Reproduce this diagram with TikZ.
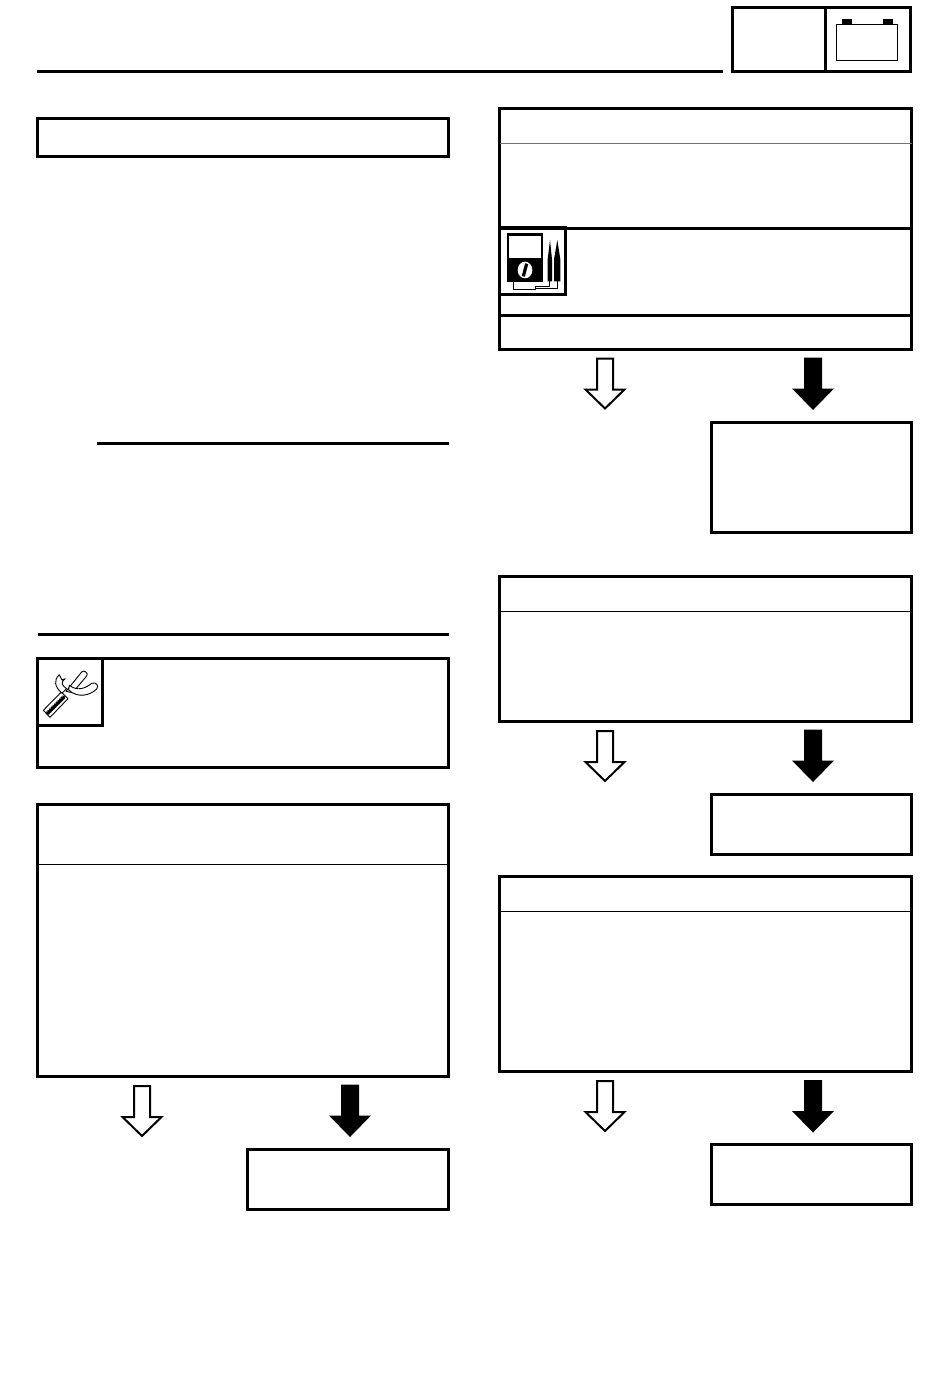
\documentclass[tikz,border=0pt]{standalone}
\tikzset{
  heavy/.style={line width=3pt,draw=black},
  panel/.style={heavy,shape=rectangle,inner sep=0pt,outer sep=0pt,anchor=north west},
  thinrule/.style={line width=1pt,draw=black},
  greyrule/.style={line width=1pt,draw=black!55},
  hollowarrow/.style={line width=2pt,draw=black,fill=white,line join=miter},
  solidarrow/.style={fill=black,draw=none},
  iconline/.style={line width=0.9pt,draw=black,line join=round},
}
\newcommand{\panelbox}[5]{\node[panel,minimum width={(#4-#2)*1pt},minimum height={(#5-#3)*1pt}] (#1) at ({#2-0.5},{#3-0.5}) {};}
\newcommand{\hollowdown}[2]{\draw[hollowarrow,shift={(#1,#2)}] (-8,0) -- (8,0) -- (8,31) -- (19.5,31) -- (0,50) -- (-19.5,31) -- (-8,31) -- cycle;}
\newcommand{\soliddown}[2]{\fill[solidarrow,shift={(#1,#2)}] (-9,-0.5) -- (9,-0.5) -- (9,30.5) -- (21,30.5) -- (0,52) -- (-21,30.5) -- (-9,30.5) -- cycle;}
\begin{document}
\begin{tikzpicture}[x=1pt,y=-1pt]
\useasboundingbox (0,0) rectangle (950,1398);
\fill[white] (0,0) rectangle (950,1398);

% header
\draw[heavy] (37,71) -- (723,71);
\panelbox{headL}{732.5}{8}{825.5}{71.5}
\panelbox{headR}{825.5}{8}{911}{71.5}
\draw[line width=1.2pt] (836.3,24.3) rectangle (897.3,60.3);
\fill (841.5,19) rectangle (851.5,24.3);
\fill (882.8,19) rectangle (893,24.3);

% left column
\panelbox{titleL}{38}{119}{449}{157}
\draw[heavy] (97,443) -- (449,443);
\draw[heavy] (38,634) -- (449,634);

\panelbox{toolbox}{38}{659}{449}{768}
\panelbox{toolicon}{38}{659}{103}{726}
\begin{scope}[shift={(40,662)},scale=1/3]
  % handle
  \draw[iconline,fill=white] (10,145) -- (64,90) -- (84,110) -- (30,166) -- cycle;
  \foreach \t in {0,0.1,...,1}{
    \fill[black] ({24+\t*50},{152-\t*50}) circle (6.5);
    \fill[white] ({21+\t*50},{148-\t*50}) circle (1.8);
  }
  % straight arm
  \draw[iconline,fill=white] (78,88) -- (125,30) .. controls (132,22) and (147,34) .. (140,42) -- (98,92) -- cycle;
  % curved arm
  \draw[iconline,fill=white] (88,70) .. controls (112,88) and (135,80) .. (155,64) .. controls (168,58) and (178,72) .. (170,81) .. controls (150,100) and (115,110) .. (86,84) -- cycle;
  % hook
  \draw[iconline,fill=white] (58,38) .. controls (40,55) and (44,74) .. (66,94) -- (80,80) .. controls (66,70) and (60,62) .. (76,50) -- (66,54) -- cycle;
\end{scope}

\panelbox{checkL}{38}{805}{449}{1077}
\draw[thinrule] (38,864.5) -- (449,864.5);
\hollowdown{142}{1086}
\soliddown{350}{1085}
\panelbox{resultL}{248}{1150}{449}{1210}

% right column, first step
\panelbox{stepA}{500}{109}{912}{350}
\draw[greyrule] (500,143) -- (912,143);
\draw[heavy] (500,228) -- (912,228);
\draw[heavy] (500,315) -- (912,315);
\panelbox{metericon}{500}{228}{566}{295}
\begin{scope}[shift={(505,230)},scale=1/3]
  % wires
  \draw[iconline,line width=1pt] (25,150) -- (25,178) -- (92,178) -- (92,168) -- (132,168) -- (132,150);
  \draw[iconline,line width=1pt] (158,150) -- (158,176) -- (92,176);
  % meter
  \draw[line width=2.4pt] (9,13) rectangle (111,152);
  \fill (9,84) rectangle (111,152);
  \fill[white] (60,120) ellipse (22 and 25);
  \draw[line width=3.2pt] (65,101) -- (55,139);
  % probes
  \fill (128,88) -- (135,30) -- (141,88) -- (141,154) -- (128,154) -- cycle;
  \fill (147,88) -- (157,30) -- (166,88) -- (166,154) -- (147,154) -- cycle;
\end{scope}

\hollowdown{605}{358.5}
\soliddown{813}{358}
\panelbox{resultA}{712}{423}{912}{533}

% right column, second step
\panelbox{stepB}{500}{577}{912}{722}
\draw[thinrule] (500,611) -- (912,611);
\hollowdown{605}{731}
\soliddown{813}{730}
\panelbox{resultB}{712}{795}{912}{855}

% right column, third step
\panelbox{stepC}{500}{877}{912}{1072}
\draw[thinrule] (500,911) -- (912,911);
\hollowdown{605}{1081}
\soliddown{813}{1080.5}
\panelbox{resultC}{712}{1145}{912}{1205}
\end{tikzpicture}
\end{document}
